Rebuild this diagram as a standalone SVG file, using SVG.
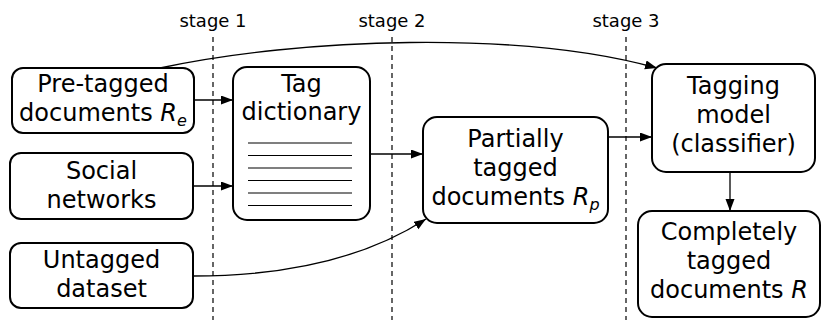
<svg xmlns="http://www.w3.org/2000/svg" width="822" height="320" viewBox="0 0 822 320">
  <style>
    .box { fill: #fff; stroke: #000; stroke-width: 2; }
    .lbl { font-family: "DejaVu Sans", sans-serif; font-size: 24px; fill: #000; text-anchor: middle; }
    .stage { font-family: "DejaVu Sans", sans-serif; font-size: 18px; fill: #000; text-anchor: middle; }
    .dash { stroke: #000; stroke-width: 1.2; stroke-dasharray: 5 4; fill: none; }
    .conn { stroke: #000; stroke-width: 1.3; fill: none; marker-end: url(#arrow); }
    .rule { stroke: #000; stroke-width: 1.2; }
    .it { font-style: italic; }
    .sub { font-style: italic; font-size: 16px; }
  </style>
  <defs>
    <marker id="arrow" markerUnits="userSpaceOnUse" markerWidth="13" markerHeight="10" refX="12" refY="4.5" orient="auto">
      <path d="M0,0 L12,4.5 L0,9 z" fill="#000"/>
    </marker>
  </defs>
  <rect width="822" height="320" fill="#fff"/>

  <!-- stage separators -->
  <g id="stages">
    <line class="dash" x1="213" y1="37" x2="213" y2="320"/>
    <line class="dash" x1="392" y1="37" x2="392" y2="320"/>
    <line class="dash" x1="626" y1="37" x2="626" y2="320"/>
    <text class="stage" x="213" y="27">stage 1</text>
    <text class="stage" x="392" y="27">stage 2</text>
    <text class="stage" x="626" y="27">stage 3</text>
  </g>

  <g id="connectors">
    <path class="conn" d="M160,68 C300,38 520,30 657,68"/>
    <path class="conn" d="M194,100 L233,100"/>
    <path class="conn" d="M193,186 L233,186"/>
    <path class="conn" d="M370,154 L423,154"/>
    <path class="conn" d="M193,276 C300,276 375,252 426,219"/>
    <path class="conn" d="M608,137 L652,137"/>
    <path class="conn" d="M730,172 L730,211"/>
  </g>

  <g id="pretagged">
    <rect class="box" x="12" y="68" width="182" height="65" rx="11"/>
    <text class="lbl" x="103" y="92">Pre-tagged</text>
    <text class="lbl" x="103" y="121">documents <tspan class="it">R</tspan><tspan class="sub" dy="5">e</tspan></text>
  </g>

  <g id="social">
    <rect class="box" x="10" y="153" width="183" height="66" rx="11"/>
    <text class="lbl" x="101.5" y="179">Social</text>
    <text class="lbl" x="101.5" y="208">networks</text>
  </g>

  <g id="untagged">
    <rect class="box" x="10" y="243" width="183" height="65" rx="11"/>
    <text class="lbl" x="101.5" y="268">Untagged</text>
    <text class="lbl" x="101.5" y="297">dataset</text>
  </g>

  <g id="dictionary">
    <rect class="box" x="233" y="67" width="137" height="153" rx="14"/>
    <text class="lbl" x="301.5" y="92">Tag</text>
    <text class="lbl" x="301.5" y="120">dictionary</text>
    <line class="rule" x1="248" y1="143" x2="352" y2="143"/>
    <line class="rule" x1="248" y1="155.5" x2="352" y2="155.5"/>
    <line class="rule" x1="248" y1="168" x2="352" y2="168"/>
    <line class="rule" x1="248" y1="180.5" x2="352" y2="180.5"/>
    <line class="rule" x1="248" y1="193" x2="352" y2="193"/>
    <line class="rule" x1="248" y1="205.5" x2="352" y2="205.5"/>
  </g>

  <g id="partial">
    <rect class="box" x="423" y="117" width="185" height="106" rx="14"/>
    <text class="lbl" x="515.5" y="147">Partially</text>
    <text class="lbl" x="515.5" y="176">tagged</text>
    <text class="lbl" x="515.5" y="205">documents <tspan class="it">R</tspan><tspan class="sub" dy="5">p</tspan></text>
  </g>

  <g id="model">
    <rect class="box" x="652" y="64" width="163" height="108" rx="14"/>
    <text class="lbl" x="733.5" y="94">Tagging</text>
    <text class="lbl" x="733.5" y="123">model</text>
    <text class="lbl" x="733.5" y="152">(classifier)</text>
  </g>

  <g id="complete">
    <rect class="box" x="638" y="211" width="182" height="106" rx="14"/>
    <text class="lbl" x="729" y="240">Completely</text>
    <text class="lbl" x="729" y="269">tagged</text>
    <text class="lbl" x="729" y="298">documents <tspan class="it">R</tspan></text>
  </g>
</svg>
